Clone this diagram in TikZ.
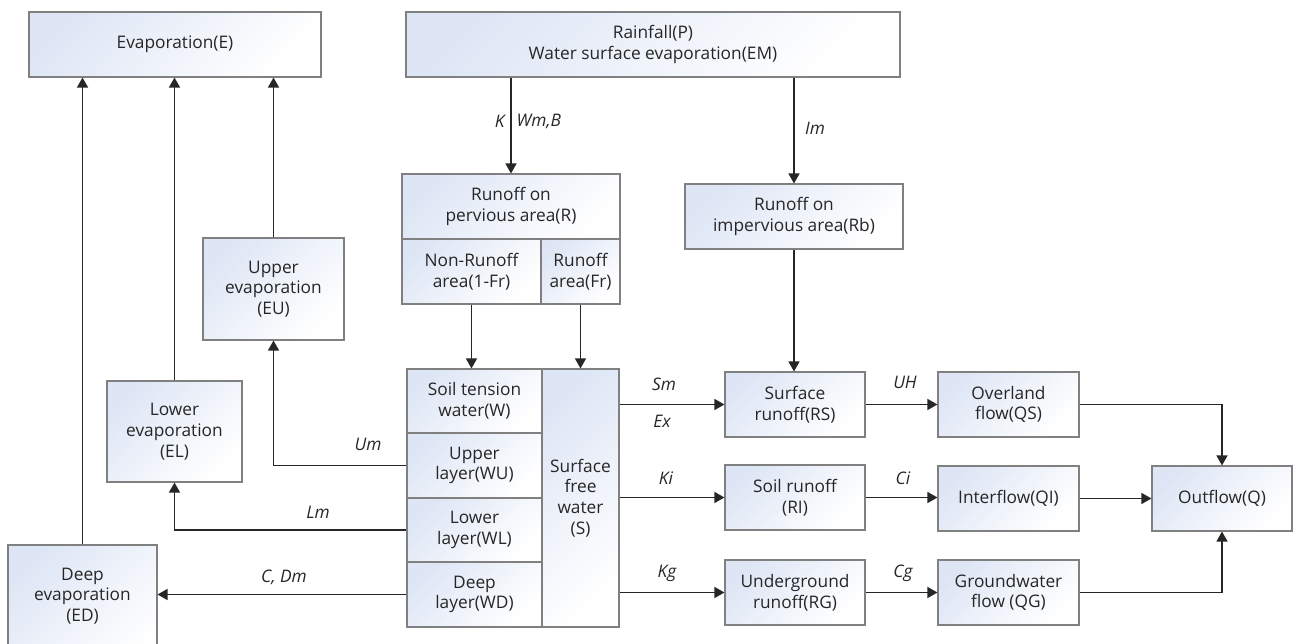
\documentclass[tikz,border=0pt]{standalone}
\usepackage{fontspec}
\setmainfont{Open Sans}
\usetikzlibrary{arrows.meta}
\definecolor{boxblue}{RGB}{222,230,245}
\definecolor{boxline}{RGB}{128,128,128}
\definecolor{linec}{RGB}{38,38,38}
\begin{document}
\begin{tikzpicture}[x=1pt,y=-1pt,
  box/.style={draw=boxline, line width=1.1pt, left color=boxblue, right color=white, shading angle=45,
    align=center, inner sep=2pt, font=\fontsize{17.3}{20.7}\selectfont, text=black!85},
  arr/.style={draw=linec, line width=1.4pt, -{Triangle[length=10pt,width=11pt]}},
  lab/.style={font=\fontsize{17.3}{20}\selectfont\itshape, text=black!85}]
\useasboundingbox (0,0) rectangle (1293,644);
\clip (0,0) rectangle (1293,644);
% top boxes
\node[box, minimum width=292, minimum height=65] (E) at (175,44.5) {Evaporation(E)};
\node[box, minimum width=494, minimum height=65] (P) at (653,44.5) {Rainfall(P)\\Water surface evaporation(EM)};
% pervious area
\node[box, minimum width=218, minimum height=65] (R) at (511,206.5) {Runoff on\\pervious area(R)};
\node[box, minimum width=139, minimum height=65] (NR) at (471.5,271.5) {Non-Runoff\\area(1-Fr)};
\node[box, minimum width=79, minimum height=65] (RA) at (580.5,271.5) {Runoff\\area(Fr)};
% impervious
\node[box, minimum width=218, minimum height=65] (Rb) at (794,216.5) {Runoff on\\impervious area(Rb)};
% soil block
\node[box, minimum width=135, minimum height=64] (W) at (474.5,401) {Soil tension\\water(W)};
\node[box, minimum width=135, minimum height=65] (WU) at (474.5,465.5) {Upper\\layer(WU)};
\node[box, minimum width=135, minimum height=64] (WL) at (474.5,530) {Lower\\layer(WL)};
\node[box, minimum width=135, minimum height=65] (WD) at (474.5,594.5) {Deep\\layer(WD)};
\node[box, minimum width=77, minimum height=258] (S) at (580.5,498) {Surface\\free\\water\\(S)};
% evaporation boxes
\node[box, minimum width=141, minimum height=102] (EU) at (273.5,289) {Upper\\evaporation\\(EU)};
\node[box, minimum width=135, minimum height=101] (EL) at (174.5,431.5) {Lower\\evaporation\\(EL)};
\node[box, minimum width=149, minimum height=130] (ED) at (82.5,610) {};
\node[align=center, font=\fontsize{17.3}{20.7}\selectfont, text=black!85] (EDt) at (82.5,596) {Deep\\evaporation\\(ED)};
% runoff boxes
\node[box, minimum width=140, minimum height=65] (RS) at (795,404.5) {Surface\\runoff(RS)};
\node[box, minimum width=140, minimum height=65] (RI) at (795,497.5) {Soil runoff\\(RI)};
\node[box, minimum width=140, minimum height=65] (RG) at (795,592.5) {Underground\\runoff(RG)};
\node[box, minimum width=141, minimum height=65] (QS) at (1008.5,404.5) {Overland\\flow(QS)};
\node[box, minimum width=141, minimum height=65] (QI) at (1008.5,498.5) {Interflow(QI)};
\node[box, minimum width=141, minimum height=65] (QG) at (1008.5,592.5) {Groundwater\\flow (QG)};
\node[box, minimum width=140, minimum height=65] (Q) at (1222,498.5) {Outflow(Q)};
% connectors
\draw[arr] (R.north |- P.south) -- (R.north);
\draw[arr] (Rb.north |- P.south) -- (Rb.north);
\draw[arr] (Rb.south) -- (Rb.south |- RS.north);
\draw[arr] (NR.south) -- (NR.south |- W.north);
\draw[arr] (RA.south) -- (RA.south |- S.north);
\draw[arr] (S.east |- RS.west) -- (RS.west);
\draw[arr] (S.east |- RI.west) -- (RI.west);
\draw[arr] (S.east |- RG.west) -- (RG.west);
\draw[arr] (RS.east) -- (RS.east -| QS.west);
\draw[arr] (RI.east) -- (RI.east -| QI.west);
\draw[arr] (RG.east) -- (RG.east -| QG.west);
\draw[arr] (QS.east) -| (Q.north);
\draw[arr] (QI.east) -- (QI.east -| Q.west);
\draw[arr] (QG.east) -| (Q.south);
\draw[arr] (WU.west) -| (EU.south);
\draw[arr] (WL.west) -| (EL.south);
\draw[arr] (WD.west) -- (WD.west -| ED.east);
\draw[arr] (EU.north) -- (EU.north |- E.south);
\draw[arr] (EL.north) -- (EL.north |- E.south);
\draw[arr] (ED.north) -- (ED.north |- E.south);
% labels
\node[lab, anchor=east] (lK) at (508,121) {K};
\node[lab, anchor=west] (lW) at (513,121) {Wm,B};
\node[lab] (lIm) at (815,128) {Im};
\node[lab] (lUm) at (368,444) {Um};
\node[lab] (lLm) at (318,512) {Lm};
\node[lab] (lC) at (284,577) {C, Dm};
\node[lab] (lSm) at (664,384) {Sm};
\node[lab] (lEx) at (662,421) {Ex};
\node[lab] (lKi) at (666,478) {Ki};
\node[lab] (lKg) at (667,573) {Kg};
\node[lab] (lUH) at (905,382) {UH};
\node[lab] (lCi) at (903,478) {Ci};
\node[lab] (lCg) at (903,573) {Cg};
\end{tikzpicture}
\end{document}
